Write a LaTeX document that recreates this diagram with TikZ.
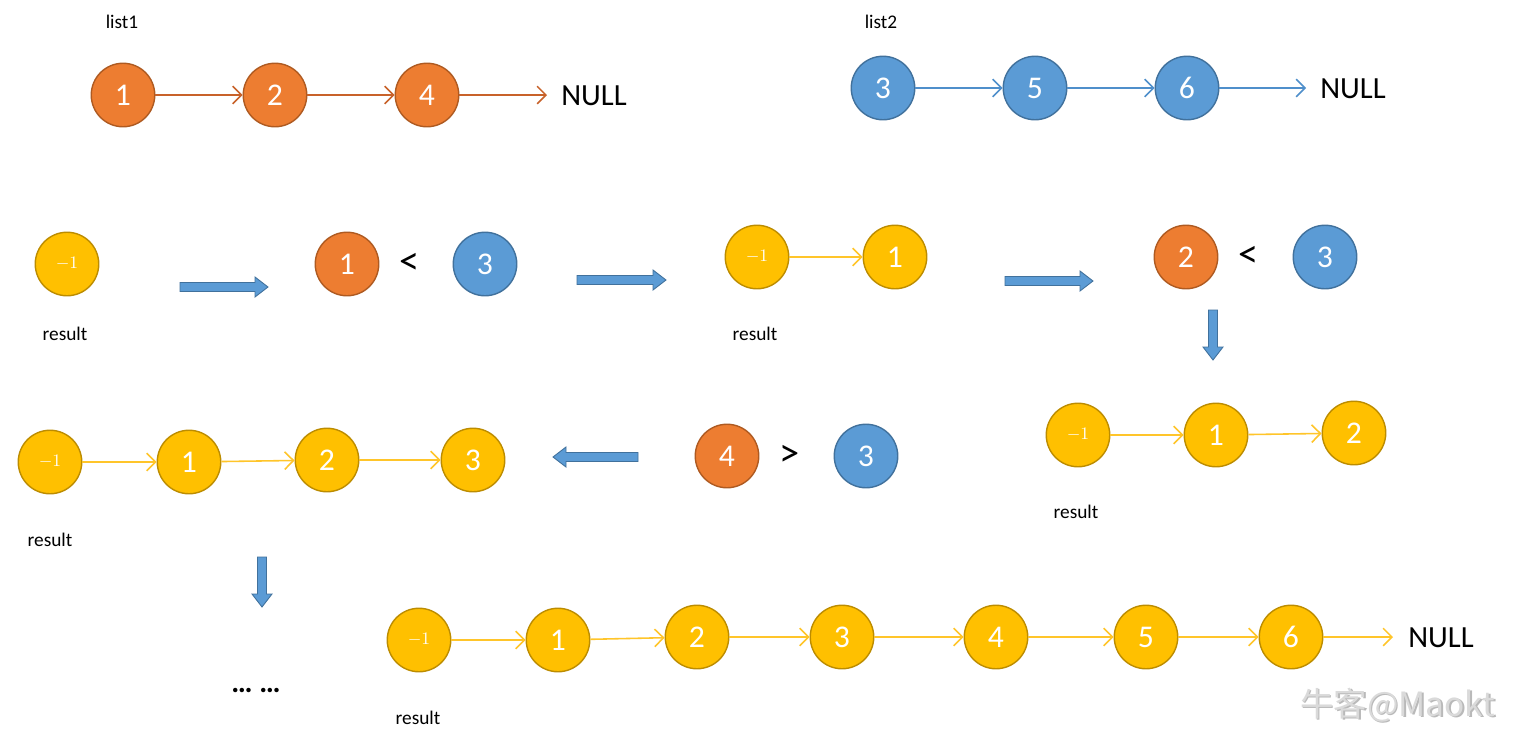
\documentclass[tikz,border=0pt]{standalone}
\usepackage{fontspec}
\setmainfont{Carlito}
\newfontfamily\cjk{Noto Sans CJK SC}
\usetikzlibrary{arrows.meta}
\definecolor{orf}{HTML}{ED7D31}
\definecolor{ord}{HTML}{AE5A21}
\definecolor{orl}{HTML}{C8622A}
\definecolor{blf}{HTML}{5B9BD5}
\definecolor{bld}{HTML}{41719C}
\definecolor{bll}{HTML}{4F8FCB}
\definecolor{yef}{HTML}{FFC000}
\definecolor{yed}{HTML}{BC8C00}
\definecolor{yel}{HTML}{FFC52A}
\definecolor{wm}{HTML}{DADADA}
\tikzset{
  circ/.style={circle, minimum size=1.27cm, inner sep=0pt, line width=0.8pt, text=white,
    font=\fontsize{18}{21}\selectfont},
  onode/.style={circ, fill=orf, draw=ord},
  bnode/.style={circ, fill=blf, draw=bld},
  ynode/.style={circ, fill=yef, draw=yed},
  mone/.style={ynode, font=\fontsize{10}{12}\selectfont},
  lbl/.style={font=\fontsize{11}{13}\selectfont, text=black},
  nulltxt/.style={font=\fontsize{17.5}{20}\selectfont, text=black, anchor=west, inner sep=0pt},
  cmp/.style={font=\fontsize{23}{26}\selectfont, text=black},
  olink/.style={draw=orl, line width=0.9pt, -{Straight Barb[length=5pt,width=10pt]}},
  blink/.style={draw=bll, line width=0.9pt, -{Straight Barb[length=5pt,width=10pt]}},
  ylink/.style={draw=yel, line width=0.9pt, -{Straight Barb[length=5pt,width=10pt]}},
  pics/barr/.style={code={
    \filldraw[fill=blf, draw=bld, line width=0.5pt]
      (0,-4.5) -- ({#1-13},-4.5) -- ({#1-13},-10) -- (#1,0) -- ({#1-13},10) -- ({#1-13},4.5) -- (0,4.5) -- cycle;}}
}
\begin{document}
\begin{tikzpicture}[x=0.02cm,y=-0.02cm]
\useasboundingbox[fill=white] (0,0) rectangle (1516,752);

% list1
\node[lbl] (l1) at (122,22) {list1};
\node[onode] (a1) at (123,95) {1};
\node[onode] (a2) at (275,95) {2};
\node[onode] (a4) at (427,95) {4};
\node[nulltxt] (n1) at (561,96) {NULL};
\coordinate (e1) at (547,95);
\draw[olink] (a1) -- (a2);
\draw[olink] (a2) -- (a4);
\draw[olink] (a4) -- (e1);

% list2
\node[lbl] (l2) at (881,22) {list2};
\node[bnode] (b3) at (883,88) {3};
\node[bnode] (b5) at (1035,88) {5};
\node[bnode] (b6) at (1187,88) {6};
\node[nulltxt] (n2) at (1320,89) {NULL};
\coordinate (e2) at (1306,88);
\draw[blink] (b3) -- (b5);
\draw[blink] (b5) -- (b6);
\draw[blink] (b6) -- (e2);

% step 0
\node[mone] (r0) at (67,264) {$-1$};
\node[lbl] (rl0) at (65,334) {result};
\pic at (180,287) {barr=88};
\node[onode] (c1) at (347,264) {1};
\node[cmp] (lt1) at (410,264) {<};
\node[bnode] (c3) at (485,264) {3};
\pic at (577,280) {barr=89};

% step 1
\node[mone] (s0) at (757,257) {$-1$};
\node[ynode] (s1) at (895,257) {1};
\node[lbl] (rl1) at (755,334) {result};
\draw[ylink] (s0) -- (s1);
\pic at (1005,281) {barr=88};
\node[onode] (d2) at (1186,257) {2};
\node[cmp] (lt2) at (1249,257) {<};
\node[bnode] (d3) at (1325,257) {3};
\pic[rotate=-90] at (1213,310) {barr=50};

% step 2
\node[mone] (t0) at (1078,435) {$-1$};
\node[ynode] (t1) at (1216,435) {1};
\node[ynode] (t2) at (1354,433) {2};
\node[lbl] (rl2) at (1076,512) {result};
\draw[ylink] (t0) -- (t1);
\draw[ylink] (t1) -- (t2);

\node[onode] (f4) at (727,456) {4};
\node[cmp] (gt) at (790,456) {>};
\node[bnode] (f3) at (866,456) {3};
\pic[rotate=180] at (638,457) {barr=85};

% step 3
\node[mone] (u0) at (50,462) {$-1$};
\node[ynode] (u1) at (189,462) {1};
\node[ynode] (u2) at (327,460) {2};
\node[ynode] (u3) at (473,460) {3};
\node[lbl] (rl3) at (50,540) {result};
\draw[ylink] (u0) -- (u1);
\draw[ylink] (u1) -- (u2);
\draw[ylink] (u2) -- (u3);
\pic[rotate=-90] at (262,557) {barr=50};
\node[font=\fontsize{17}{20}\selectfont] (dots) at (256,690) {\textbf{… …}};

% final
\node[mone] (v0) at (419,640) {$-1$};
\node[ynode] (v1) at (558,640) {1};
\node[ynode] (v2) at (697,637) {2};
\node[ynode] (v3) at (842,637) {3};
\node[ynode] (v4) at (996,637) {4};
\node[ynode] (v5) at (1146,637) {5};
\node[ynode] (v6) at (1291,637) {6};
\node[nulltxt] (n3) at (1408,638) {NULL};
\coordinate (e3) at (1393,637);
\node[lbl] (rl4) at (418,718) {result};
\draw[ylink] (v0) -- (v1);
\draw[ylink] (v1) -- (v2);
\draw[ylink] (v2) -- (v3);
\draw[ylink] (v3) -- (v4);
\draw[ylink] (v4) -- (v5);
\draw[ylink] (v5) -- (v6);
\draw[ylink] (v6) -- (e3);

% watermark
\node[text=gray!55, font=\cjk\fontsize{19}{23}\selectfont, anchor=west, inner sep=0pt] (wm1) at (1301.5,706.5) {牛客@Maokt};
\node[text=wm, font=\cjk\fontsize{19}{23}\selectfont, anchor=west, inner sep=0pt] (wm2) at (1300,705) {牛客@Maokt};
\end{tikzpicture}
\end{document}
